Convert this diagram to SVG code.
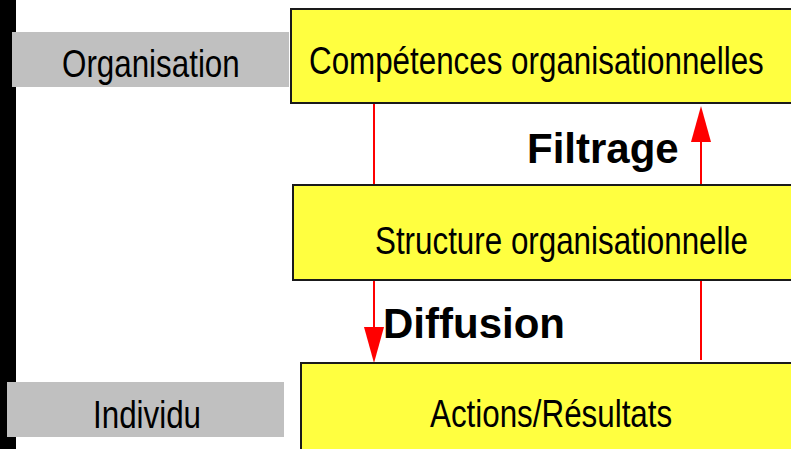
<svg xmlns="http://www.w3.org/2000/svg" width="791" height="449" viewBox="0 0 791 449">
  <style>
    .box { fill: #ffff40; stroke: #1a1a1a; stroke-width: 2; }
    .side { fill: #c0c0c0; }
    .lbl { font-family: "Liberation Sans", Arial, sans-serif; font-size: 38px; fill: #000; }
    .bold { font-family: "Liberation Sans", Arial, sans-serif; font-size: 42px; font-weight: bold; fill: #000; }
    .link { stroke: #ff0000; stroke-width: 2; fill: none; }
    .head { fill: #ff0000; }
  </style>

  <rect width="791" height="449" fill="#ffffff"/>
  <!-- left edge bar -->
  <rect x="0" y="0" width="16" height="449" fill="#000000"/>

  <g id="level-organisation">
    <rect class="side" x="12" y="32" width="277" height="55"/>
    <text class="lbl" transform="translate(62,77) scale(0.825,1)">Organisation</text>
  </g>
  <g id="level-individu">
    <rect class="side" x="7" y="382" width="277" height="55"/>
    <text class="lbl" transform="translate(93,428) scale(0.825,1)">Individu</text>
  </g>

  <g id="connectors">
    <line class="link" x1="374" y1="103" x2="374" y2="185"/>
    <line class="link" x1="374" y1="280" x2="374" y2="328"/>
    <polygon class="head" points="364,327 384,327 374,363"/>
    <line class="link" x1="701" y1="185" x2="701" y2="141"/>
    <polygon class="head" points="691,142 711,142 701,106"/>
    <line class="link" x1="701" y1="280" x2="701" y2="360"/>
    <text class="bold" x="527" y="163">Filtrage</text>
    <text class="bold" x="383" y="338">Diffusion</text>
  </g>

  <g id="competences">
    <rect class="box" x="291" y="9" width="520" height="94"/>
    <text class="lbl" transform="translate(309,74) scale(0.825,1)">Compétences organisationnelles</text>
  </g>
  <g id="structure">
    <rect class="box" x="293" y="185" width="520" height="95"/>
    <text class="lbl" transform="translate(375,254) scale(0.825,1)">Structure organisationnelle</text>
  </g>
  <g id="actions">
    <rect class="box" x="301" y="363" width="520" height="100"/>
    <text class="lbl" transform="translate(430,427) scale(0.825,1)">Actions/Résultats</text>
  </g>
</svg>
